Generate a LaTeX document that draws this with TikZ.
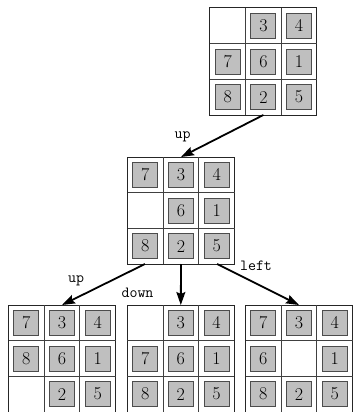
\documentclass[tikz,border=0pt]{standalone}
\usetikzlibrary{arrows.meta,calc}
\tikzset{
  board/.style={draw=black!85, line width=1pt, minimum size=107pt, inner sep=0pt, outer sep=0pt},
  cellline/.style={draw=black!75, line width=0.9pt},
  tile/.style={draw=black!70, fill=black!25, line width=0.9pt, minimum size=25pt, inner sep=0pt, font=\fontsize{18}{18}\selectfont},
  move/.style={line width=1.8pt, -{Stealth[length=13pt,width=9pt,inset=2pt]}},
  lab/.style={font=\ttfamily\fontsize{15.5}{15.5}\selectfont, inner sep=0pt, anchor=base},
}
\newcommand\puzzle[4]{%
  \node[board] (#1) at (#2,#3) {};
  \begin{scope}[shift={(#1.center)}]
    \draw[cellline] (-17.833,-53.5) -- (-17.833,53.5);
    \draw[cellline] (17.833,-53.5) -- (17.833,53.5);
    \draw[cellline] (-53.5,-17.833) -- (53.5,-17.833);
    \draw[cellline] (-53.5,17.833) -- (53.5,17.833);
  \end{scope}
  \foreach \v [count=\k from 0] in {#4} {%
    \pgfmathtruncatemacro\rr{div(\k,3)}%
    \pgfmathtruncatemacro\cc{mod(\k,3)}%
    \ifnum\v>0
      \node[tile] (#1-\k) at ($(#1.center)+({(\cc-1)*35.667},{(\rr-1)*35.667})$) {\v};
    \fi
  }%
}
\begin{document}
\begin{tikzpicture}[x=1pt,y=-1pt]
\useasboundingbox (0,0) rectangle (353,412);
\puzzle{top}{263.4}{61.5}{0,3,4,7,6,1,8,2,5}
\puzzle{mid}{181}{210.5}{7,3,4,0,6,1,8,2,5}
\puzzle{bl}{62}{358.5}{7,3,4,8,6,1,0,2,5}
\puzzle{bm}{180.8}{358.5}{0,3,4,7,6,1,8,2,5}
\puzzle{br}{299}{358.5}{7,3,4,6,0,1,8,2,5}
\draw[move] (top.south) -- (mid.north);
\draw[move] (mid.-124) -- (bl.north);
\draw[move] (mid.south) -- (bm.north);
\draw[move] (mid.-56) -- (br.north);
\node[lab] (l1) at (182.5,138) {up};
\node[lab] (l2) at (76,282) {up};
\node[lab] (l3) at (137.5,297) {down};
\node[lab] (l4) at (256,270) {left};
\end{tikzpicture}
\end{document}
